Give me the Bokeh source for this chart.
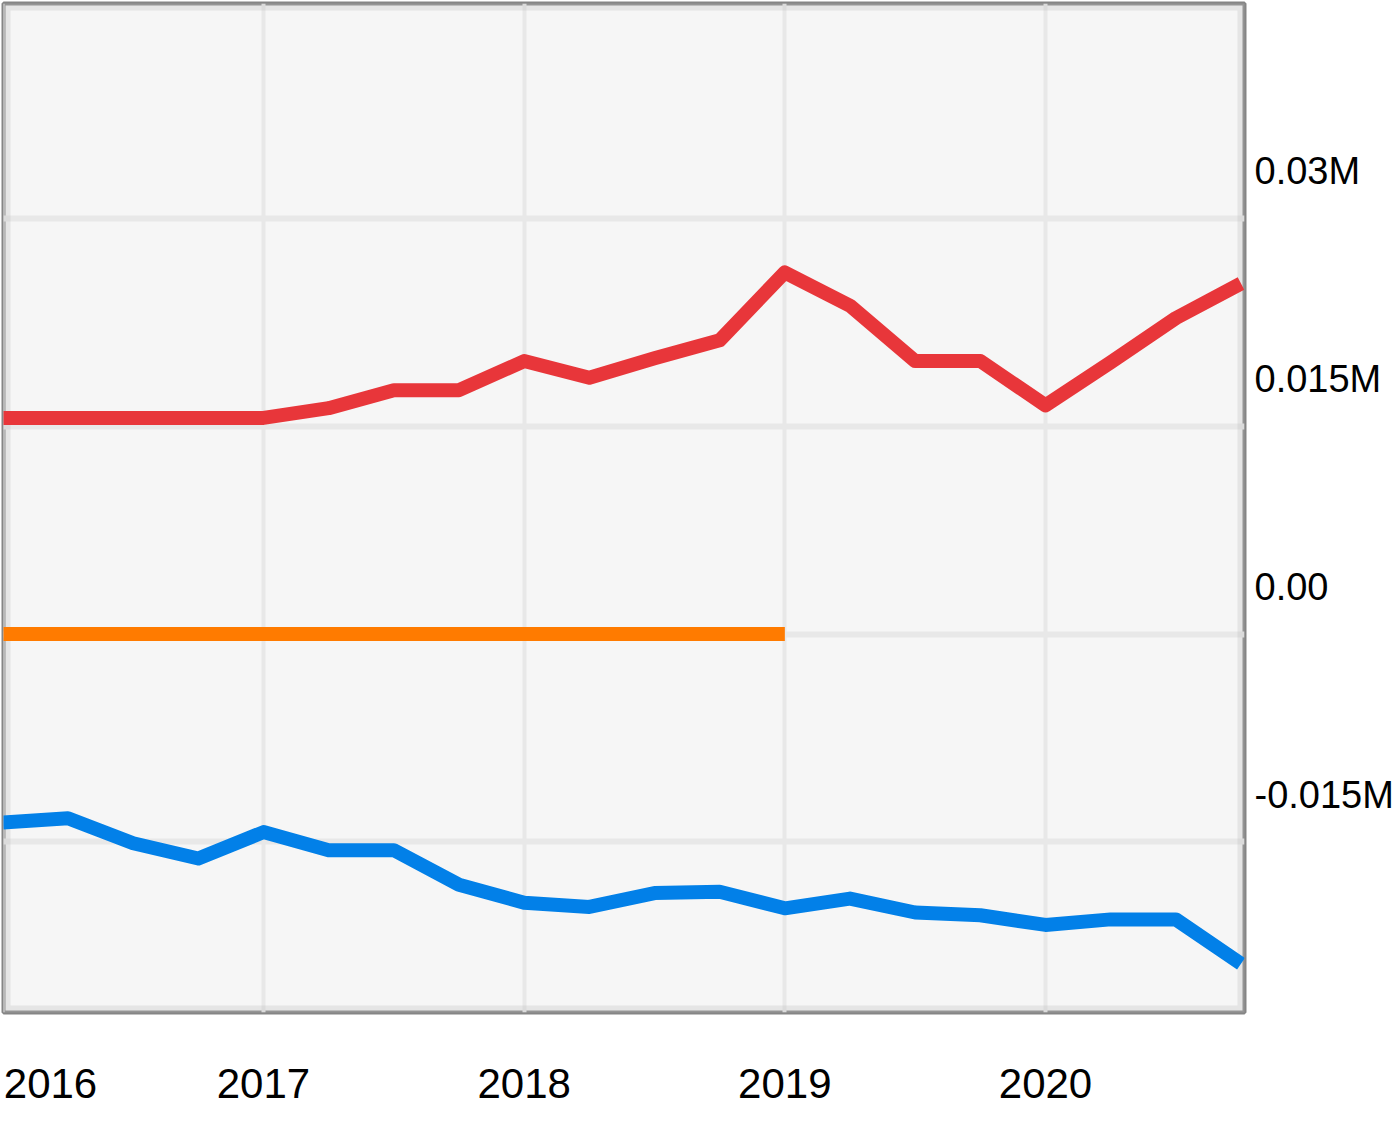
import math
from bokeh.plotting import figure
from bokeh.models import FixedTicker, Range1d, BoxAnnotation
from bokeh.embed import file_html
from bokeh.resources import INLINE

# ---- data ----
quarters = [2016.0, 2016.25, 2016.5, 2016.75,
            2017.0, 2017.25, 2017.5, 2017.75,
            2018.0, 2018.25, 2018.5, 2018.75,
            2019.0, 2019.25, 2019.5, 2019.75,
            2020.0, 2020.25, 2020.5, 2020.75]

red_values = [0.0156, 0.0156, 0.0156, 0.0156,
              0.0156, 0.0163, 0.0176, 0.0176,
              0.0197, 0.0185, 0.0199, 0.0212,
              0.0261, 0.0237, 0.0197, 0.0197,
              0.0165, 0.0196, 0.0228, 0.0253]

orange_values = [0.0, 0.0, 0.0, 0.0,
                 0.0, 0.0, 0.0, 0.0,
                 0.0, 0.0, 0.0, 0.0,
                 0.0, math.nan, math.nan, math.nan,
                 math.nan, math.nan, math.nan, math.nan]

blue_values = [-0.0136, -0.0133, -0.0151, -0.0162,
               -0.0143, -0.0156, -0.0156, -0.0181,
               -0.0194, -0.0197, -0.0187, -0.0186,
               -0.0198, -0.0191, -0.0201, -0.0203,
               -0.0210, -0.0206, -0.0206, -0.0238]

x_tick_values = [2016, 2017, 2018, 2019, 2020]
x_tick_labels = ["2016", "2017", "2018", "2019", "2020"]
y_tick_values = [0.03, 0.015, 0.0, -0.015]
y_tick_labels = ["0.03M", "0.015M", "0.00", "-0.015M"]

# ---- layout / style ----
FONT = "Liberation Sans"
X_START, X_END = 2016.0026, 2020.7634
Y_START, Y_END = -0.02732, 0.04551
Y_LABEL_SHIFT = 0.0034     # labels sit above their grid lines
X_FIRST_SHIFT = 0.183      # first year label is pushed inside

p = figure(frame_width=1241, frame_height=1009,
           x_range=Range1d(X_START, X_END), y_range=Range1d(Y_START, Y_END),
           y_axis_location="right", toolbar_location=None,
           output_backend="svg",
           background_fill_color="#f6f6f6", border_fill_color="white",
           min_border_left=3, min_border_top=3, min_border_right=0,
           min_border_bottom=105)

p.outline_line_color = "#858585"
p.outline_line_width = 4

inner = BoxAnnotation(fill_alpha=0, line_color="#bcbcbc", line_width=14,
                      level="underlay")
p.add_layout(inner)

# grids at the real values
p.xgrid.ticker = FixedTicker(ticks=x_tick_values)
p.ygrid.ticker = FixedTicker(ticks=y_tick_values)
p.xgrid.grid_line_color = "#e8e8e8"
p.xgrid.grid_line_width = 4
p.ygrid.grid_line_color = "#e8e8e8"
p.ygrid.grid_line_width = 6

# axis label positions
x_label_pos = [v + (X_FIRST_SHIFT if i == 0 else 0.0) for i, v in enumerate(x_tick_values)]
y_label_pos = [v + Y_LABEL_SHIFT for v in y_tick_values]

xa = p.xaxis[0]
xa.ticker = FixedTicker(ticks=x_label_pos)
xa.major_label_overrides = {pos: lab for pos, lab in zip(x_label_pos, x_tick_labels)}
xa.axis_line_color = None
xa.major_tick_line_color = None
xa.minor_tick_line_color = None
xa.major_tick_out = 0
xa.major_tick_in = 0
xa.major_label_standoff = 56
xa.major_label_text_font = FONT
xa.major_label_text_font_size = "42px"
xa.major_label_text_color = "black"

ya = p.yaxis[0]
ya.ticker = FixedTicker(ticks=y_label_pos)
ya.major_label_overrides = {pos: lab for pos, lab in zip(y_label_pos, y_tick_labels)}
ya.axis_line_color = None
ya.major_tick_line_color = None
ya.minor_tick_line_color = None
ya.major_tick_out = 0
ya.major_tick_in = 0
ya.major_label_standoff = 10
ya.major_label_text_font = FONT
ya.major_label_text_font_size = "38px"
ya.major_label_text_color = "black"

p.line(quarters, red_values, line_color="#e8363a", line_width=14, line_join="round")
p.line(quarters, orange_values, line_color="#ff7b00", line_width=14)
p.line(quarters, blue_values, line_color="#0280e8", line_width=14, line_join="round")

open("out.html", "w").write(file_html(p, INLINE))
